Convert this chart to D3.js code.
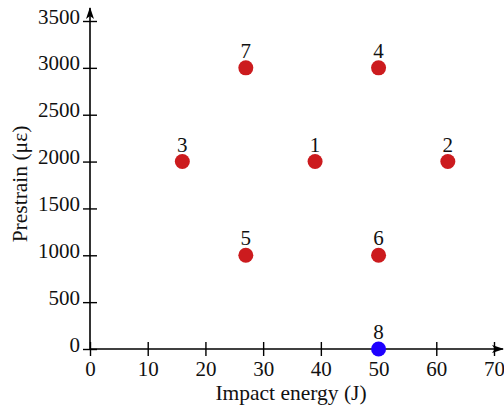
<!DOCTYPE html>
<html>
<head>
<meta charset="utf-8">
<script src="https://cdn.jsdelivr.net/npm/d3@7"></script>
<style>
html,body{margin:0;padding:0;background:#fff;}
svg{display:block;}
svg text{font-family:"Liberation Serif","Times New Roman",serif !important;fill:#111;}
</style>
</head>
<body>
<svg id="chart" width="504" height="412"></svg>
<script>
const energy = [39, 62, 16, 50, 27, 50, 27, 50];
const prestrain = [2000, 2000, 2000, 3000, 1000, 1000, 3000, 0];
const labels = ["1", "2", "3", "4", "5", "6", "7", "8"];
const groups = ["test", "test", "test", "test", "test", "test", "test", "reference"];
const xTicks = [0, 10, 20, 30, 40, 50, 60, 70];
const yTicks = [0, 500, 1000, 1500, 2000, 2500, 3000, 3500];
const xTitle = "Impact energy (J)";
const yTitle = "Prestrain (\u03bc\u03b5)";

const FONT = "'Liberation Serif','Times New Roman',serif";
const svg = d3.select("#chart");
const x = d3.scaleLinear().domain([0, 70]).range([90, 494]);
const y = d3.scaleLinear().domain([0, 3500]).range([349, 21]);
const color = d3.scaleOrdinal().domain(["test", "reference"]).range(["#cc1b1e", "#1e00ff"]);

const defs = svg.append("defs");
defs.append("marker").attr("id", "arr").attr("viewBox", "0 0 12 10")
  .attr("refX", 11).attr("refY", 5).attr("markerWidth", 12).attr("markerHeight", 10)
  .attr("markerUnits", "userSpaceOnUse").attr("orient", "auto")
  .append("path").attr("d", "M0,1 L12,5 L0,9 L3,5 Z").attr("fill", "#000");

svg.append("line").attr("x1", x(0)).attr("x2", 503).attr("y1", y(0)).attr("y2", y(0))
  .attr("stroke", "#000").attr("stroke-width", 1.6).attr("marker-end", "url(#arr)");
svg.append("line").attr("x1", x(0)).attr("x2", x(0)).attr("y1", y(0)).attr("y2", 8)
  .attr("stroke", "#000").attr("stroke-width", 1.6).attr("marker-end", "url(#arr)");

const xAxis = d3.axisBottom(x).tickValues(xTicks).tickSize(0).tickFormat(d3.format("d"));
const gx = svg.append("g").attr("transform", `translate(0,${y(0)})`).call(xAxis)
  .attr("font-family", FONT).attr("font-size", 21);
gx.select(".domain").remove();
gx.selectAll(".tick line").attr("y1", -7).attr("y2", 7).attr("stroke", "#000").attr("stroke-width", 1.4);
gx.selectAll(".tick text").attr("y", 27).attr("dy", null).attr("fill", "#111");

const yAxis = d3.axisLeft(y).tickValues(yTicks).tickSize(0).tickFormat(d3.format("d"));
const gy = svg.append("g").attr("transform", `translate(${x(0)},0)`).call(yAxis)
  .attr("font-family", FONT).attr("font-size", 21);
gy.select(".domain").remove();
gy.selectAll(".tick line").attr("x1", -7).attr("x2", 7).attr("stroke", "#000").attr("stroke-width", 1.4);
gy.selectAll(".tick text").attr("x", -10).attr("dy", null).attr("y", 2).attr("fill", "#111");

svg.append("text").attr("x", 291).attr("y", 400).attr("text-anchor", "middle")
  .attr("font-family", FONT).attr("font-size", 21.5).text(xTitle);
svg.append("text").attr("transform", "translate(27,184) rotate(-90)").attr("text-anchor", "middle")
  .attr("font-family", FONT).attr("font-size", 21.5).text(yTitle);

const idx = d3.range(energy.length);
svg.append("g").selectAll("circle").data(idx).join("circle")
  .attr("cx", i => x(energy[i])).attr("cy", i => y(prestrain[i])).attr("r", 7.5)
  .attr("fill", i => color(groups[i]));
svg.append("g").selectAll("text").data(idx).join("text")
  .attr("x", i => x(energy[i])).attr("y", i => y(prestrain[i]) - 10)
  .attr("text-anchor", "middle").attr("font-family", FONT).attr("font-size", 21).text(i => labels[i]);
</script>
</body>
</html>
